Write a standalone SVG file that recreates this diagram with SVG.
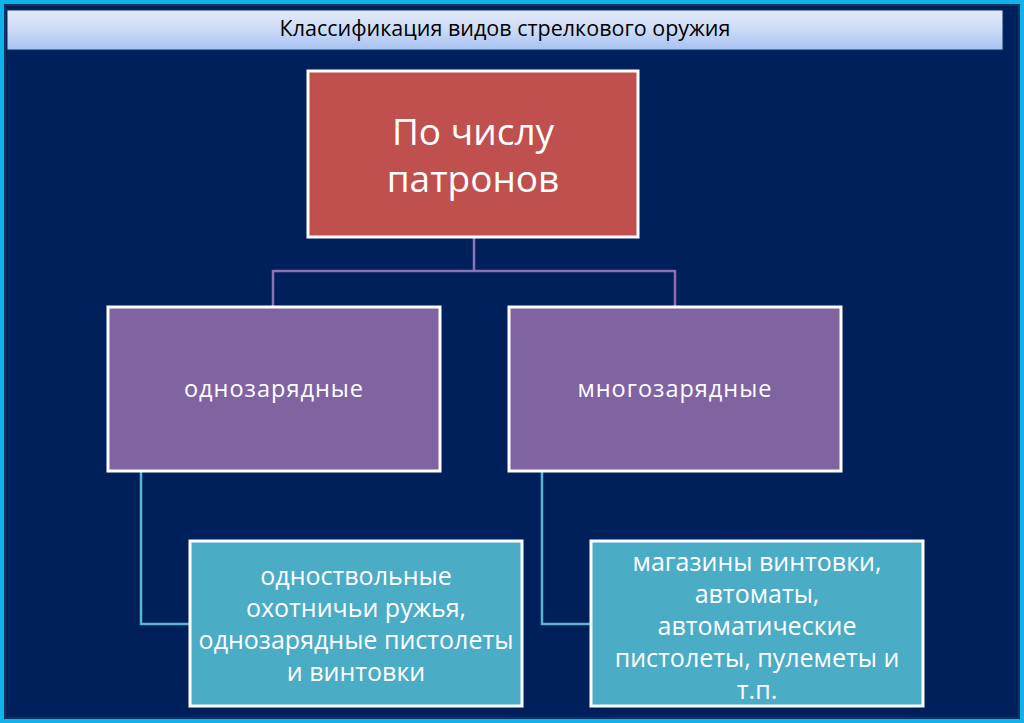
<svg xmlns="http://www.w3.org/2000/svg" width="1024" height="723" viewBox="0 0 1024 723">
<defs>
<linearGradient id="hdr" x1="0" y1="0" x2="0" y2="1">
<stop offset="0" stop-color="#E2EAFA"/>
<stop offset="0.5" stop-color="#CCDBF7"/>
<stop offset="1" stop-color="#A6C1F0"/>
</linearGradient>
<style>
.t{font-family:"Open Sans","Liberation Sans",sans-serif;fill:#FFFFFF;text-anchor:middle}
.box{stroke:#FFFFFF;stroke-width:3}
.c1{fill:none;stroke:#8A72B4;stroke-width:2.5}
.c2{fill:none;stroke:#5AB4D2;stroke-width:2.5}
</style>
</defs>
<rect x="0" y="0" width="1024" height="723" fill="#0FB3EA"/>
<rect x="4" y="4" width="1016" height="715" fill="#0C3566"/>
<rect x="6" y="6" width="1012" height="711" fill="#00205C"/>
<g id="header">
<rect x="7" y="10" width="996" height="40" fill="url(#hdr)" stroke="#0A3060" stroke-width="1"/>
<text x="505" y="36" font-family="Open Sans, Liberation Sans, sans-serif" font-size="21.5" fill="#000" text-anchor="middle">Классификация видов стрелкового оружия</text>
</g>
<g id="connectors">
<path class="c1" d="M474 238 V271 M273 271 H675 M273 270 V307 M675 270 V307"/>
<path class="c2" d="M141 471 V624 H190"/>
<path class="c2" d="M542 471 V624 H591"/>
</g>
<g id="root">
<rect class="box" x="308" y="71" width="330" height="166" fill="#C0504D"/>
<text class="t" x="473" y="145" font-size="37">По числу</text>
<text class="t" x="473" y="192" font-size="37">патронов</text>
</g>
<g id="single">
<rect class="box" x="108" y="307" width="332" height="164" fill="#8064A2"/>
<text class="t" x="274" y="397" font-size="23.5" letter-spacing="1">однозарядные</text>
</g>
<g id="multi">
<rect class="box" x="509" y="307" width="332" height="164" fill="#8064A2"/>
<text class="t" x="675" y="397" font-size="23.5" letter-spacing="1">многозарядные</text>
</g>
<g id="single-ex">
<rect class="box" x="190" y="541" width="332" height="165" fill="#4BACC6"/>
<text class="t" font-size="25"><tspan x="356" y="585">одноствольные</tspan><tspan x="356" y="617">охотничьи ружья,</tspan><tspan x="356" y="649">однозарядные пистолеты</tspan><tspan x="356" y="681">и винтовки</tspan></text>
</g>
<g id="multi-ex">
<rect class="box" x="591" y="541" width="332" height="165" fill="#4BACC6"/>
<text class="t" font-size="25"><tspan x="757" y="571">магазины винтовки,</tspan><tspan x="757" y="603">автоматы,</tspan><tspan x="757" y="635">автоматические</tspan><tspan x="757" y="667">пистолеты, пулеметы и</tspan><tspan x="757" y="699">т.п.</tspan></text>
</g>
</svg>
